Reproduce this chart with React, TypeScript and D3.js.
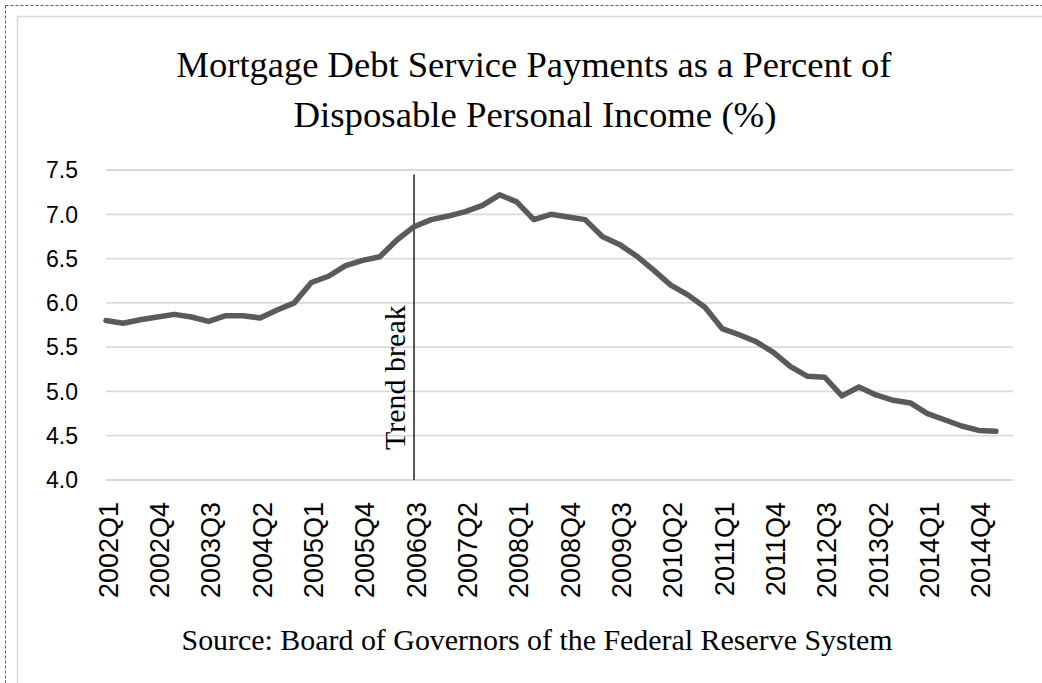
import React from "react";
import * as d3 from "d3";

const quarters: string[] = [];
for (let y = 2002; y <= 2015; y++) for (let q = 1; q <= 4; q++) quarters.push(`${y}Q${q}`);
const categories = quarters.slice(0, 53); // 2002Q1 .. 2015Q1

const values = [
  5.80, 5.77, 5.81, 5.84, 5.87, 5.84, 5.79, 5.855, 5.855, 5.83,
  5.92, 6.00, 6.23, 6.30, 6.42, 6.48, 6.52, 6.71, 6.86, 6.94,
  6.98, 7.03, 7.10, 7.22, 7.14, 6.94, 7.00, 6.97, 6.94, 6.75,
  6.66, 6.53, 6.37, 6.20, 6.09, 5.95, 5.71, 5.64, 5.56, 5.44,
  5.28, 5.17, 5.16, 4.95, 5.05, 4.96, 4.90, 4.87, 4.75, 4.68,
  4.61, 4.56, 4.55,
];

const yTicks = [4.0, 4.5, 5.0, 5.5, 6.0, 6.5, 7.0, 7.5];
const tickEvery = 3;
const trendBreakCategory = "2006Q3";
const trendBreakTop = 7.45;

const titleLines = [
  "Mortgage Debt Service Payments as a Percent of",
  "Disposable Personal Income (%)",
];
const sourceText = "Source: Board of Governors of the Federal Reserve System";
const trendLabel = "Trend break";

export default function App() {
  const W = 1042;
  const H = 683;
  const left = 106;
  const right = 1013;
  const top = 170;
  const bottom = 480;

  const x = d3.scaleLinear().domain([0, categories.length]).range([left, right]);
  const y = d3.scaleLinear().domain([4.0, 7.5]).range([bottom, top]);

  const line = d3
    .line<number>()
    .x((_, i) => x(i))
    .y((d) => y(d));

  const tbIdx = categories.indexOf(trendBreakCategory);
  const tbX = x(tbIdx);

  const serif = "'Liberation Serif', 'Times New Roman', serif";
  const sans = "'Liberation Sans', Arial, sans-serif";

  return (
    <svg
      width={W}
      height={H}
      style={{ position: "absolute", left: 0, top: 0, background: "#fff" }}
    >
      {/* outer dashed selection border */}
      <line x1={5.5} y1={5.5} x2={W} y2={5.5} stroke="#3a5fa8" strokeWidth={1} strokeDasharray="3,2" />
      <line x1={5.5} y1={5.5} x2={5.5} y2={H} stroke="#3a5fa8" strokeWidth={1} strokeDasharray="3,2" />
      {/* chart frame */}
      <rect x={17.5} y={16.5} width={W} height={H} fill="#fff" stroke="#d9d9d9" strokeWidth={1.5} />

      {/* title */}
      <text
        x={534}
        y={77}
        textAnchor="middle"
        fontFamily={serif}
        fontSize={36.5}
        fill="#000"
        textLength={715}
        lengthAdjust="spacingAndGlyphs"
      >
        {titleLines[0]}
      </text>
      <text
        x={535}
        y={127}
        textAnchor="middle"
        fontFamily={serif}
        fontSize={36.5}
        fill="#000"
        textLength={483}
        lengthAdjust="spacingAndGlyphs"
      >
        {titleLines[1]}
      </text>

      {/* gridlines */}
      {yTicks.map((t) => (
        <line key={t} x1={left} x2={right} y1={y(t)} y2={y(t)} stroke="#d9d9d9" strokeWidth={1.8} />
      ))}

      {/* y labels */}
      {yTicks.map((t) => (
        <text
          key={"l" + t}
          x={78}
          y={y(t)}
          dy="0.36em"
          textAnchor="end"
          fontFamily={sans}
          fontSize={23}
          fill="#000"
        >
          {t.toFixed(1)}
        </text>
      ))}

      {/* x labels */}
      {categories.map((c, i) =>
        i % tickEvery === 0 ? (
          <text
            key={c}
            transform={`translate(${x(i) + 11.5},${502}) rotate(-90)`}
            textAnchor="end"
            fontFamily={sans}
            fontSize={27}
            fill="#000"
          >
            {c}
          </text>
        ) : null
      )}

      {/* trend break */}
      <line x1={tbX} x2={tbX} y1={y(trendBreakTop)} y2={y(4.0)} stroke="#000" strokeWidth={1.3} />
      <text
        transform={`translate(${tbX - 9},${450}) rotate(-90)`}
        textAnchor="start"
        fontFamily={serif}
        fontSize={30}
        fill="#000"
      >
        {trendLabel}
      </text>

      {/* data line */}
      <path
        d={line(values) || ""}
        fill="none"
        stroke="#5a5a5a"
        strokeWidth={5.5}
        strokeLinejoin="round"
        strokeLinecap="round"
      />

      {/* source */}
      <text
        x={537}
        y={650}
        textAnchor="middle"
        fontFamily={serif}
        fontSize={29}
        fill="#000"
        textLength={711}
        lengthAdjust="spacingAndGlyphs"
      >
        {sourceText}
      </text>
    </svg>
  );
}
